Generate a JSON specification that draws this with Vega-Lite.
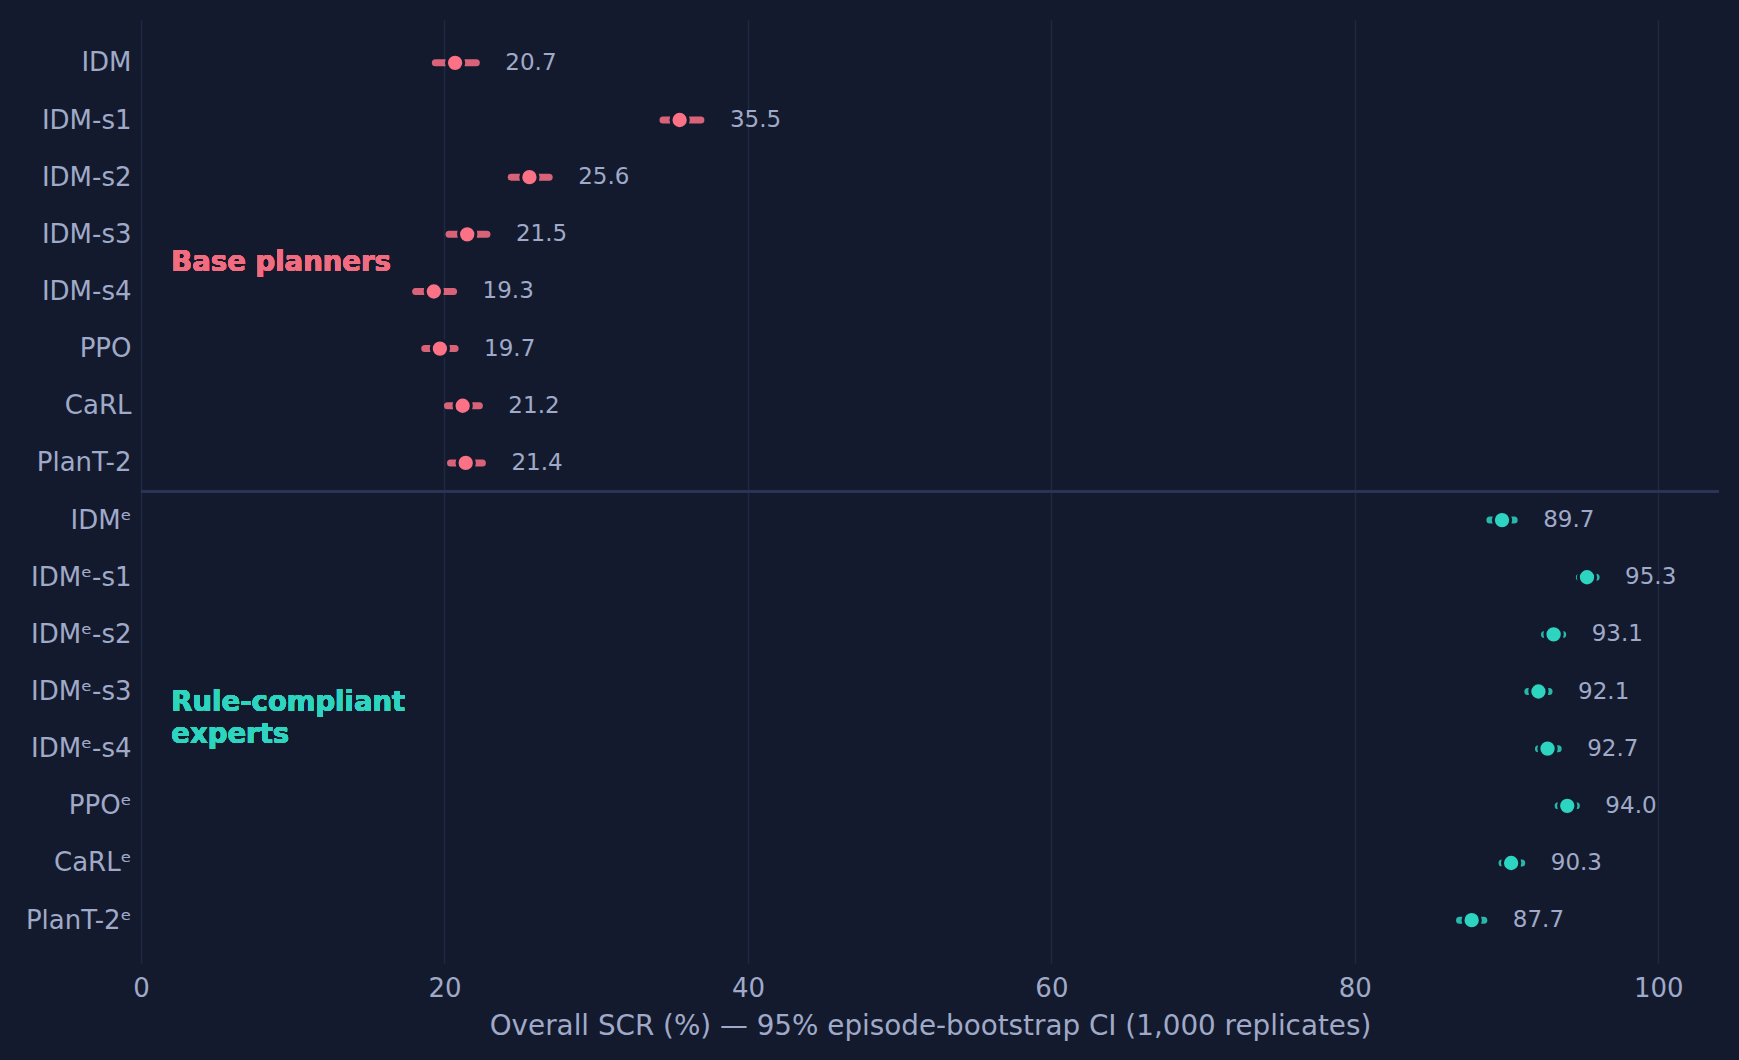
{
  "$schema": "https://vega.github.io/schema/vega-lite/v6.json",
  "width": 1578,
  "height": 943,
  "autosize": {"type": "none"},
  "padding": {"left": 141, "top": 20, "right": 20, "bottom": 97},
  "background": "#131a2e",
  "config": {"font": "DejaVu Sans", "view": {"stroke": null}},
  "data": {
    "values": [
      {"planner": "IDM", "group": "Base planners", "scr": 20.7, "lo": 19.4, "hi": 22.1},
      {"planner": "IDM-s1", "group": "Base planners", "scr": 35.5, "lo": 34.4, "hi": 36.9},
      {"planner": "IDM-s2", "group": "Base planners", "scr": 25.6, "lo": 24.4, "hi": 26.9},
      {"planner": "IDM-s3", "group": "Base planners", "scr": 21.5, "lo": 20.3, "hi": 22.8},
      {"planner": "IDM-s4", "group": "Base planners", "scr": 19.3, "lo": 18.1, "hi": 20.6},
      {"planner": "PPO", "group": "Base planners", "scr": 19.7, "lo": 18.7, "hi": 20.7},
      {"planner": "CaRL", "group": "Base planners", "scr": 21.2, "lo": 20.2, "hi": 22.3},
      {"planner": "PlanT-2", "group": "Base planners", "scr": 21.4, "lo": 20.4, "hi": 22.5},
      {"planner": "IDMᵉ", "group": "Rule-compliant experts", "scr": 89.7, "lo": 88.9, "hi": 90.5},
      {"planner": "IDMᵉ-s1", "group": "Rule-compliant experts", "scr": 95.3, "lo": 94.8, "hi": 95.9},
      {"planner": "IDMᵉ-s2", "group": "Rule-compliant experts", "scr": 93.1, "lo": 92.5, "hi": 93.7},
      {"planner": "IDMᵉ-s3", "group": "Rule-compliant experts", "scr": 92.1, "lo": 91.4, "hi": 92.8},
      {"planner": "IDMᵉ-s4", "group": "Rule-compliant experts", "scr": 92.7, "lo": 92.1, "hi": 93.4},
      {"planner": "PPOᵉ", "group": "Rule-compliant experts", "scr": 94.0, "lo": 93.4, "hi": 94.6},
      {"planner": "CaRLᵉ", "group": "Rule-compliant experts", "scr": 90.3, "lo": 89.7, "hi": 91.0},
      {"planner": "PlanT-2ᵉ", "group": "Rule-compliant experts", "scr": 87.7, "lo": 86.9, "hi": 88.5}
    ]
  },
  "encoding": {
    "y": {
      "field": "planner",
      "type": "nominal",
      "sort": null,
      "scale": {
        "type": "point",
        "padding": 0.75,
        "domain": ["IDM", "IDM-s1", "IDM-s2", "IDM-s3", "IDM-s4", "PPO", "CaRL", "PlanT-2",
                   "IDMᵉ", "IDMᵉ-s1", "IDMᵉ-s2", "IDMᵉ-s3", "IDMᵉ-s4", "PPOᵉ", "CaRLᵉ", "PlanT-2ᵉ"]
      },
      "axis": {
        "title": null,
        "ticks": false,
        "domain": false,
        "grid": false,
        "labelFontSize": 26,
        "labelColor": "#a0aac8",
        "labelPadding": 10
      }
    },
    "color": {
      "field": "group",
      "type": "nominal",
      "scale": {"domain": ["Base planners", "Rule-compliant experts"], "range": ["#fb7185", "#2dd4bf"]},
      "legend": null
    }
  },
  "layer": [
    {
      "mark": {"type": "rule", "strokeWidth": 7, "strokeCap": "round", "opacity": 0.85},
      "encoding": {
        "x": {
          "field": "lo",
          "type": "quantitative",
          "scale": {"domain": [0, 104], "nice": false, "zero": false},
          "axis": {
            "values": [0, 20, 40, 60, 80, 100],
            "title": "Overall SCR (%) — 95% episode-bootstrap CI (1,000 replicates)",
            "titleFontSize": 27.8,
            "titleFontWeight": "normal",
            "titleColor": "#a0aac8",
            "titlePadding": 11,
            "labelFontSize": 26,
            "labelColor": "#a0aac8",
            "labelPadding": 12,
            "labelFlush": false,
            "ticks": false,
            "domain": false,
            "grid": true,
            "gridColor": "#1e2841",
            "gridWidth": 1.5
          }
        },
        "x2": {"field": "hi"}
      }
    },
    {
      "mark": {"type": "rule", "color": "#2b3556", "strokeWidth": 2, "yOffset": 28.6},
      "encoding": {"y": {"datum": "PlanT-2"}, "color": {"value": "#2b3556"}}
    },
    {
      "mark": {"type": "point", "filled": true, "size": 300, "opacity": 1, "stroke": "#131a2e", "strokeWidth": 3},
      "encoding": {"x": {"field": "scr", "type": "quantitative"}}
    },
    {
      "mark": {"type": "text", "align": "left", "baseline": "middle", "dx": 29, "fontSize": 23},
      "encoding": {
        "x": {"field": "hi", "type": "quantitative"},
        "text": {"field": "scr", "type": "quantitative", "format": ".1f"},
        "color": {"value": "#a0aac8"}
      }
    },
    {
      "mark": {"type": "text", "align": "left", "baseline": "middle", "dy": 28.6, "fontSize": 27.5, "fontWeight": "bold"},
      "encoding": {
        "x": {"datum": 2},
        "y": {"datum": "IDM-s3"},
        "text": {"value": "Base planners"},
        "color": {"value": "#f06c80"}
      }
    },
    {
      "mark": {"type": "text", "align": "left", "baseline": "middle", "dy": 11, "fontSize": 27.5, "fontWeight": "bold", "lineBreak": "\n", "lineHeight": 32},
      "encoding": {
        "x": {"datum": 2},
        "y": {"datum": "IDMᵉ-s3"},
        "text": {"value": "Rule-compliant\nexperts"},
        "color": {"value": "#2dd4bf"}
      }
    }
  ]
}
